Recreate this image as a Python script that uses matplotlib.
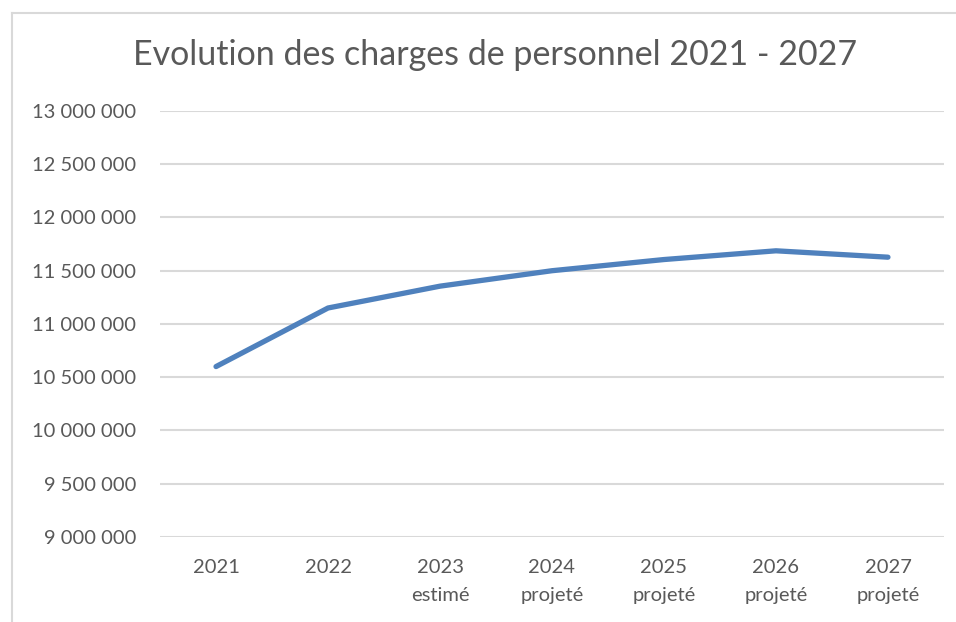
import matplotlib
matplotlib.use('Agg')
import matplotlib.pyplot as plt
from matplotlib.ticker import FuncFormatter, MultipleLocator
from matplotlib.lines import Line2D

plt.rcParams['font.family'] = ['Lato', 'DejaVu Sans']

years = ['2021', '2022', '2023\nestimé', '2024\nprojeté', '2025\nprojeté',
         '2026\nprojeté', '2027\nprojeté']
charges = [10600000, 11150000, 11355000, 11500000, 11605000, 11687000, 11627000]

grey_text = '#595959'
grid_col = '#D9D9D9'

fig = plt.figure(figsize=(9.56, 6.22), dpi=100)
ax = fig.add_axes([0.1674, 0.1367, 0.82, 0.6849])

x = list(range(len(years)))
ax.plot(x, charges, color='#4F81BD', lw=3.8, solid_capstyle='round',
        solid_joinstyle='round', zorder=3)

ax.set_xlim(-0.5, len(years) - 0.5)
ax.set_ylim(9000000, 13000000)
ax.yaxis.set_major_locator(MultipleLocator(500000))
ax.yaxis.set_major_formatter(FuncFormatter(lambda v, p: f'{v:,.0f}'.replace(',', ' ')))
ax.set_xticks(x)
ax.set_xticklabels(years, linespacing=1.8)

ax.grid(axis='y', color=grid_col, lw=1.5)
ax.set_axisbelow(True)
for s in ax.spines.values():
    s.set_visible(False)
ax.tick_params(axis='both', length=0, labelsize=14.5, labelcolor=grey_text)
ax.tick_params(axis='y', pad=17)
ax.tick_params(axis='x', pad=16)

fig.text(0.518, 1 - 55 / 622, 'Evolution des charges de personnel 2021 - 2027',
         ha='center', va='center', fontsize=24.5, color=grey_text)

# chart frame (top and left edges visible)
fig.add_artist(Line2D([12 / 956, 1], [1 - 13 / 622] * 2, color=grid_col, lw=1.5,
                      transform=fig.transFigure))
fig.add_artist(Line2D([12 / 956] * 2, [0, 1 - 13 / 622], color=grid_col, lw=1.5,
                      transform=fig.transFigure))

fig.savefig('out.png', dpi=100, facecolor='white')
